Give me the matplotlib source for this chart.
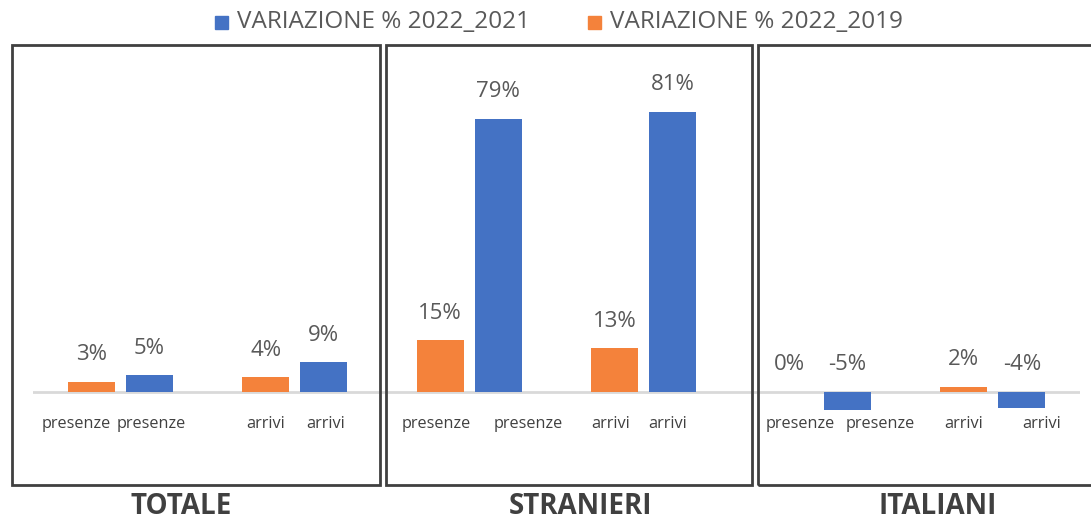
import matplotlib.pyplot as plt
from matplotlib.patches import Rectangle

# dati
gruppi = ["TOTALE", "STRANIERI", "ITALIANI"]
categorie = ["presenze", "arrivi", "presenze", "arrivi", "presenze", "arrivi"]
var_2022_2019 = [0.029, 0.042, 0.15, 0.126, 0.0, 0.015]
var_2022_2021 = [0.049, 0.086, 0.79, 0.81, -0.053, -0.045]
serie_nomi = ["VARIAZIONE % 2022_2021", "VARIAZIONE % 2022_2019"]

blu = "#4472C4"
arancio = "#F4823B"
grigio = "#595959"

plt.rcParams['font.family'] = ['Open Sans', 'DejaVu Sans']

fig = plt.figure(figsize=(10.91, 5.22), dpi=100)
W, H = 1091, 522

# asse: baseline a y=392px, 346 px per unita
ymin, ymax = -0.2, 0.9
scala = 346
top_px = 392 - ymax * scala
bot_px = 392 - ymin * scala
ax = fig.add_axes([33 / W, 1 - bot_px / H, (1080 - 33) / W, (bot_px - top_px) / H])
ax.set_xlim(-0.5, 5.5)
ax.set_ylim(ymin, ymax)
ax.axis("off")

x = list(range(len(categorie)))
larg = 0.27
off = 0.1667
xo = [i - off for i in x]
xb = [i + off for i in x]
ax.bar(xo, var_2022_2019, width=larg, color=arancio, zorder=2)
ax.bar(xb, var_2022_2021, width=larg, color=blu, zorder=2)
ax.axhline(0, color="#d9d9d9", lw=2, zorder=1)

for xs, vals in [(xo, var_2022_2019), (xb, var_2022_2021)]:
    for xi, v in zip(xs, vals):
        ax.annotate(f"{round(v * 100):.0f}%", (xi, max(v, 0)), xytext=(0, 27),
                    textcoords="offset pixels", ha="center", va="center",
                    fontsize=16, color=grigio)

# etichette categorie (spostamenti in pixel come nel riferimento)
sposta_o = [-15, 0, -4, -4, 11, 0]
sposta_b = [2, 2, 30, -5, 33, 20]
for i, c in enumerate(categorie):
    for xi, s in [(xo[i], sposta_o[i]), (xb[i], sposta_b[i])]:
        ax.annotate(c, (xi, 0), xytext=(s, -32), textcoords="offset pixels",
                    ha="center", va="center", fontsize=11.7, color="#404040")

# riquadri dei gruppi
riquadri = [(12, 380), (386, 752), (758, 1100)]
centri_titoli = [181, 580, 938]
for (x0, x1), g, xc in zip(riquadri, gruppi, centri_titoli):
    fig.add_artist(Rectangle((x0 / W, 1 - 485 / H), (x1 - x0) / W, 440 / H,
                             transform=fig.transFigure, fill=False,
                             edgecolor="#404040", lw=2))
    fig.text(xc / W, 1 - 507 / H, g, ha="center", va="center",
             fontsize=20, fontweight="bold", color="#404040")

# legenda
for (xq, xt), nome, col in [((222, 237), serie_nomi[0], blu), ((595, 610), serie_nomi[1], arancio)]:
    fig.add_artist(Rectangle(((xq - 7) / W, 1 - 29 / H), 13 / W, 13 / H,
                             transform=fig.transFigure, color=col))
    fig.text(xt / W, 1 - 22 / H, nome, ha="left", va="center", fontsize=17.5,
             color=grigio)

fig.savefig("out.png", dpi=100)
